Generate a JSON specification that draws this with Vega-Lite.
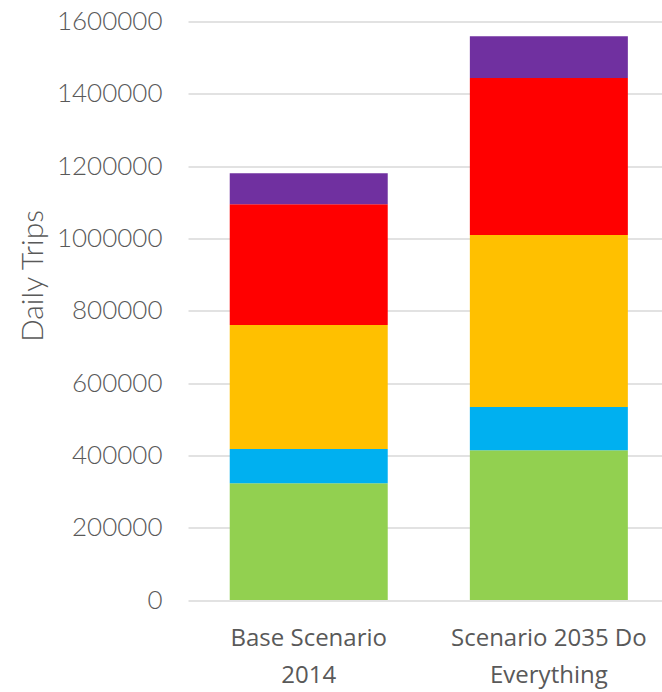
{
  "$schema": "https://vega.github.io/schema/vega-lite/v6.json",
  "autosize": {"type": "none"},
  "width": 474,
  "height": 578.5,
  "padding": {"left": 188, "top": 21.5, "right": 0, "bottom": 92},
  "background": "#ffffff",
  "data": {
    "values": [
      {"scenario": "Base Scenario 2014", "series": "Series 1", "trips": 322800},
      {"scenario": "Base Scenario 2014", "series": "Series 2", "trips": 94800},
      {"scenario": "Base Scenario 2014", "series": "Series 3", "trips": 343000},
      {"scenario": "Base Scenario 2014", "series": "Series 4", "trips": 333800},
      {"scenario": "Base Scenario 2014", "series": "Series 5", "trips": 85800},
      {"scenario": "Scenario 2035 Do Everything", "series": "Series 1", "trips": 414000},
      {"scenario": "Scenario 2035 Do Everything", "series": "Series 2", "trips": 119800},
      {"scenario": "Scenario 2035 Do Everything", "series": "Series 3", "trips": 475700},
      {"scenario": "Scenario 2035 Do Everything", "series": "Series 4", "trips": 434200},
      {"scenario": "Scenario 2035 Do Everything", "series": "Series 5", "trips": 115400}
    ]
  },
  "mark": {"type": "bar"},
  "encoding": {
    "x": {
      "field": "scenario",
      "type": "nominal",
      "sort": null,
      "scale": {"paddingInner": 0.342, "paddingOuter": 0.158, "align": 0.55},
      "axis": {
        "title": null,
        "domain": false,
        "ticks": false,
        "labelAngle": 0,
        "labelFont": "Open Sans",
        "labelFontSize": 24,
        "labelColor": "#595959",
        "labelPadding": 45,
        "labelLineHeight": 37,
        "labelBaseline": "alphabetic",
        "labelLimit": 0,
        "labelExpr": "datum.label == 'Base Scenario 2014' ? ['Base Scenario', '2014'] : ['Scenario 2035 Do', 'Everything']"
      }
    },
    "y": {
      "field": "trips",
      "type": "quantitative",
      "stack": "zero",
      "scale": {"domain": [0, 1600000], "nice": false},
      "axis": {
        "title": "Daily Trips",
        "titleFont": "Lato",
        "titleFontWeight": 300,
        "titleFontSize": 30,
        "titleColor": "#595959",
        "titleAngle": -90,
        "titleX": -155,
        "titleY": 254,
        "titleAlign": "center",
        "titleBaseline": "middle",
        "values": [0, 200000, 400000, 600000, 800000, 1000000, 1200000, 1400000, 1600000],
        "format": "d",
        "domain": false,
        "ticks": false,
        "labelFont": "Lato",
        "labelFontWeight": 300,
        "labelFontSize": 26,
        "labelColor": "#595959",
        "labelPadding": 26,
        "gridColor": "#d9d9d9",
        "gridWidth": 1.5
      }
    },
    "color": {
      "field": "series",
      "type": "nominal",
      "scale": {
        "domain": ["Series 1", "Series 2", "Series 3", "Series 4", "Series 5"],
        "range": ["#92D050", "#00B0F0", "#FFC000", "#FF0000", "#7030A0"]
      },
      "legend": null
    },
    "order": {"field": "series", "sort": "ascending"}
  },
  "config": {"view": {"stroke": null}}
}
